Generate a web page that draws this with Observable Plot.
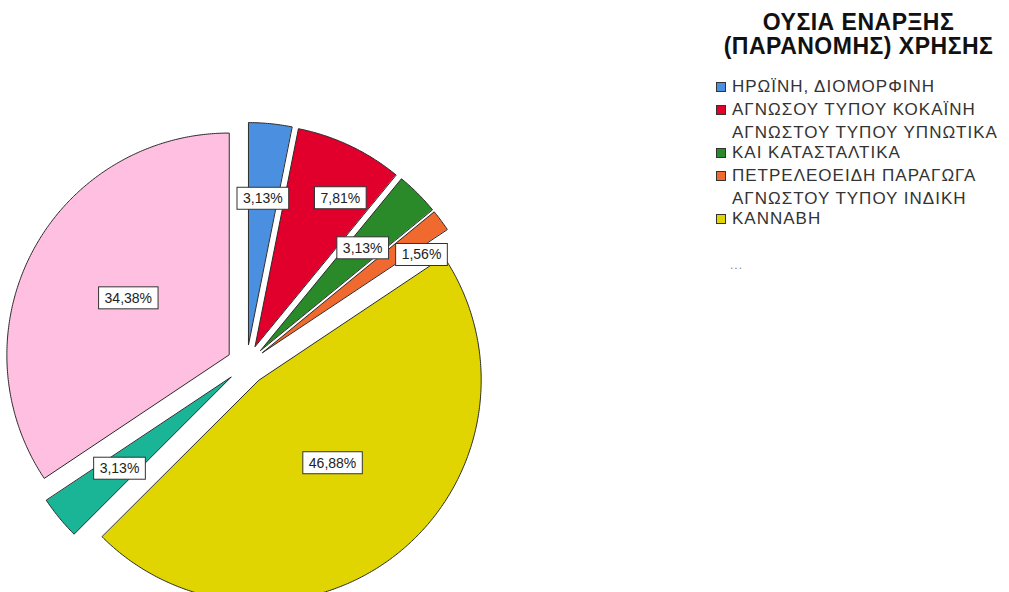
<!DOCTYPE html>
<html>
<head>
<meta charset="utf-8">
<script src="https://cdn.jsdelivr.net/npm/d3@7"></script>
<script src="https://cdn.jsdelivr.net/npm/@observablehq/plot@0.6"></script>
<style>
  html, body { margin: 0; padding: 0; background: #fff; overflow: hidden; }
  #wrap { position: relative; width: 1009px; height: 592px; }
  #legend { position: absolute; left: 712px; top: 0; width: 297px; font-family: "Liberation Sans", Arial, sans-serif; color: #333; }
  #legend .title { position: absolute; left: 0; top: 10px; width: 293px; text-align: center; font-weight: bold; font-size: 23px; letter-spacing: 0.5px; line-height: 24px; color: #111; }
  #legend .items { position: absolute; left: 4px; top: 77px; }
  #legend .item { display: flex; align-items: flex-end; margin-bottom: 3px; }
  #legend .sw { width: 8px; height: 8px; border: 1px solid #333; margin: 0 6px 5px 0; flex: none; }
  #legend .lab { font-size: 17px; letter-spacing: 1px; line-height: 20px; white-space: pre; }
  #legend .more { position: absolute; left: 18px; top: 258px; font-size: 12px; color: #888; letter-spacing: 1px; }
</style>
</head>
<body>
<div id="wrap">
  <div id="chart"></div>
  <div id="legend"></div>
</div>
<script>
// ---- data ----
const legendTitle = ["ΟΥΣΙΑ ΕΝΑΡΞΗΣ", "(ΠΑΡΑΝΟΜΗΣ) ΧΡΗΣΗΣ"];
const categories = [
  "ΗΡΩΪΝΗ, ΔΙΟΜΟΡΦΙΝΗ",
  "ΑΓΝΩΣΟΥ ΤΥΠΟΥ ΚΟΚΑΪΝΗ",
  "ΑΓΝΩΣΤΟΥ ΤΥΠΟΥ ΥΠΝΩΤΙΚΑ\nΚΑΙ ΚΑΤΑΣΤΑΛΤΙΚΑ",
  "ΠΕΤΡΕΛΕΟΕΙΔΗ ΠΑΡΑΓΩΓΑ",
  "ΑΓΝΩΣΤΟΥ ΤΥΠΟΥ ΙΝΔΙΚΗ\nΚΑΝΝΑΒΗ",
  "κατηγορία 6",
  "κατηγορία 7"
];
const percents = [3.13, 7.81, 3.13, 1.56, 46.88, 3.13, 34.38];
const colors = ["#4a8fe0", "#e0002b", "#2a8a2a", "#f06a30", "#e0d500", "#1ab496", "#ffbfe0"];
const legendShown = 5; // legend lists the first five, then "..."

// ---- layout (not data) ----
const W = 1009, H = 592;
const cx = 246, cy = 364, R = 222, explode = 20;
// label placement: [fraction of radius, angle shift in degrees]
const labelPlacement = [[0.66, 0], [0.77, 4.6], [0.65, 0], [0.84, 5], [0.5, -2], [0.65, 0], [0.52, 1.3]];

const total = d3.sum(percents);
const rad = a => a * Math.PI / 180;
const pt = (ox, oy, r, a) => [ox + r * Math.sin(rad(a)), oy - r * Math.cos(rad(a))];

const polyPoints = [];
const labels = [];
let acc = 0;
percents.forEach((v, i) => {
  const a0 = acc / total * 360;
  acc += v;
  const a1 = acc / total * 360;
  const mid = (a0 + a1) / 2;
  const [vx, vy] = pt(cx, cy, explode, mid);
  polyPoints.push({category: categories[i], x: vx, y: vy});
  const n = Math.max(2, Math.ceil((a1 - a0) / 0.5));
  for (let k = 0; k <= n; k++) {
    const a = a0 + (a1 - a0) * k / n;
    const [px, py] = pt(vx, vy, R, a);
    polyPoints.push({category: categories[i], x: px, y: py});
  }
  const [fr, sh] = labelPlacement[i];
  const [lx, ly] = pt(vx, vy, fr * R, mid + sh);
  labels.push({x: lx, y: ly, text: v.toFixed(2).replace(".", ",") + "%"});
});

const plot = Plot.plot({
  width: W, height: H,
  margin: 0,
  x: {domain: [0, W], range: [0, W], axis: null},
  y: {domain: [0, H], range: [0, H], axis: null},
  color: {domain: categories, range: colors},
  style: {background: "transparent"},
  marks: [
    Plot.line(polyPoints, {x: "x", y: "y", z: "category", fill: "category", stroke: "#2a2a2a", strokeWidth: 1, curve: "linear-closed"}),
    Plot.text(labels, {x: "x", y: "y", text: "text", fontSize: 14, fill: "#222", fontFamily: "Liberation Sans, Arial, sans-serif"})
  ]
});
document.getElementById("chart").appendChild(plot);

// white boxed labels behind the text
plot.querySelectorAll('g[aria-label="text"] text').forEach(t => {
  const bb = t.getBBox();
  const r = document.createElementNS("http://www.w3.org/2000/svg", "rect");
  r.setAttribute("x", bb.x - 6);
  r.setAttribute("y", bb.y - 3);
  r.setAttribute("width", bb.width + 12);
  r.setAttribute("height", bb.height + 6);
  r.setAttribute("fill", "#fff");
  r.setAttribute("stroke", "#333");
  r.setAttribute("stroke-width", 1);
  const tr = t.getAttribute("transform");
  if (tr) r.setAttribute("transform", tr);
  t.parentNode.insertBefore(r, t);
});

// legend
const lg = document.getElementById("legend");
const title = document.createElement("div");
title.className = "title";
title.innerHTML = legendTitle.join("<br>");
lg.appendChild(title);
const items = document.createElement("div");
items.className = "items";
categories.slice(0, legendShown).forEach((c, i) => {
  const it = document.createElement("div");
  it.className = "item";
  const sw = document.createElement("div");
  sw.className = "sw";
  sw.style.background = colors[i];
  const lab = document.createElement("div");
  lab.className = "lab";
  lab.textContent = c;
  it.appendChild(sw); it.appendChild(lab);
  items.appendChild(it);
});
lg.appendChild(items);
const more = document.createElement("div");
more.className = "more";
more.textContent = "...";
lg.appendChild(more);
</script>
</body>
</html>
